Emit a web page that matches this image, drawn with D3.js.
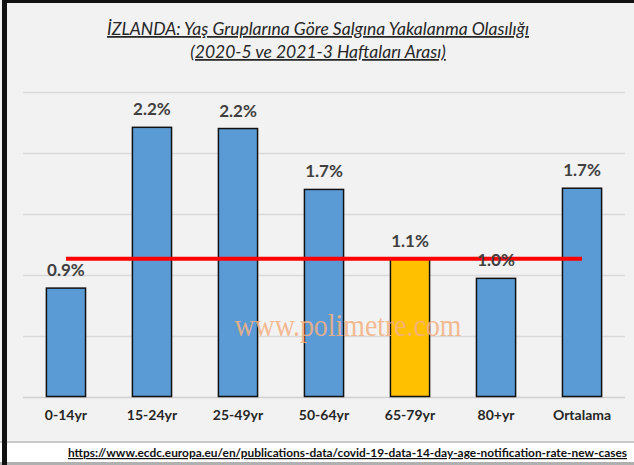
<!DOCTYPE html>
<html>
<head>
<meta charset="utf-8">
<script src="https://cdn.jsdelivr.net/npm/d3@7"></script>
<style>
  html, body { margin: 0; padding: 0; background: #fff; }
  svg { display: block; }
</style>
</head>
<body>
<svg id="chart" width="634" height="465"></svg>
<script>
const categories = ['0-14yr', '15-24yr', '25-49yr', '50-64yr', '65-79yr', '80+yr', 'Ortalama'];
const values = [0.89, 2.21, 2.20, 1.70, 1.13, 0.97, 1.71];
const valueLabels = ['0.9%', '2.2%', '2.2%', '1.7%', '1.1%', '1.0%', '1.7%'];
const highlight = '65-79yr';
const refValue = 1.13;
const gridTicks = [0, 0.5, 1.0, 1.5, 2.0, 2.5];
const titleLines = ['İZLANDA: Yaş Gruplarına Göre Salgına Yakalanma Olasılığı', '(2020-5 ve 2021-3 Haftaları Arası)'];
const source = 'https://www.ecdc.europa.eu/en/publications-data/covid-19-data-14-day-age-notification-rate-new-cases';

const svg = d3.select('#chart');
const font = 'Lato, "Open Sans", sans-serif';

// background + frame
svg.append('rect').attr('x', 0).attr('y', 0).attr('width', 634).attr('height', 443).attr('fill', '#f2f2f2');
svg.append('rect').attr('x', 0).attr('y', 441).attr('width', 634).attr('height', 2).attr('fill', '#c8c8c8');
svg.append('rect').attr('x', 0).attr('y', 462).attr('width', 634).attr('height', 3).attr('fill', '#b0b0b0');
svg.append('rect').attr('x', 2).attr('y', 0).attr('width', 632).attr('height', 3).attr('fill', '#111');
svg.append('rect').attr('x', 2).attr('y', 0).attr('width', 5).attr('height', 465).attr('fill', '#111');

const x = d3.scaleBand().domain(categories).range([23, 625]).paddingInner(0.545).paddingOuter(0.272);
const y = d3.scaleLinear().domain([0, 2.5]).range([396.5, 92]);

// gridlines
svg.append('g').selectAll('line').data(gridTicks).join('line')
  .attr('x1', 23).attr('x2', 625)
  .attr('y1', d => Math.round(y(d)) + 0.5).attr('y2', d => Math.round(y(d)) + 0.5)
  .attr('stroke', d => d === 0 ? '#d0d0d0' : '#d9d9d9').attr('stroke-width', 1.5);

// bars
svg.append('g').selectAll('rect').data(categories).join('rect')
  .attr('x', d => x(d)).attr('width', x.bandwidth())
  .attr('y', (d, i) => y(values[i])).attr('height', (d, i) => y(0) - y(values[i]))
  .attr('fill', d => d === highlight ? '#ffc000' : '#5b9bd5')
  .attr('stroke', '#111').attr('stroke-width', 1.5);

// reference line
svg.append('line')
  .attr('x1', x(categories[0]) + x.bandwidth() / 2)
  .attr('x2', x(categories[categories.length - 1]) + x.bandwidth() / 2)
  .attr('y1', y(refValue)).attr('y2', y(refValue))
  .attr('stroke', '#ff0000').attr('stroke-width', 4);

// watermark (on top of the bars)
svg.append('text').attr('x', 348).attr('y', 336).attr('text-anchor', 'middle')
  .attr('font-family', '"Liberation Serif", "Times New Roman", serif').attr('font-size', 32)
  .attr('fill', '#f4b183').attr('fill-opacity', 0.9)
  .attr('textLength', 227).attr('lengthAdjust', 'spacingAndGlyphs')
  .text('www.polimetre.com');

// value labels
svg.append('g').selectAll('text').data(categories).join('text')
  .attr('x', d => x(d) + x.bandwidth() / 2)
  .attr('y', (d, i) => y(values[i]) - 12)
  .attr('text-anchor', 'middle')
  .attr('font-family', font).attr('font-weight', 'bold').attr('font-size', 17)
  .attr('fill', '#404040')
  .text((d, i) => valueLabels[i]);

// x axis labels
const xAxis = d3.axisBottom(x).tickSize(0).tickPadding(14);
const gx = svg.append('g').attr('transform', `translate(0,${y(0)})`).call(xAxis);
gx.select('.domain').remove();
gx.selectAll('text')
  .attr('font-family', font).attr('font-weight', 'bold').attr('font-size', 14)
  .attr('fill', '#262626');

// title
svg.append('g').selectAll('text').data(titleLines).join('text')
  .attr('x', 318).attr('y', (d, i) => 35 + i * 23)
  .attr('text-anchor', 'middle')
  .attr('font-family', font).attr('font-style', 'italic').attr('font-size', 17.5)
  .attr('fill', '#262626').attr('text-decoration', 'underline')
  .text(d => d);

// source
svg.append('text').attr('x', 627).attr('y', 457).attr('text-anchor', 'end')
  .attr('font-family', font).attr('font-weight', 'bold').attr('font-size', 12)
  .attr('fill', '#111').attr('text-decoration', 'underline')
  .attr('textLength', 559).attr('lengthAdjust', 'spacingAndGlyphs')
  .text(source);
</script>
</body>
</html>
